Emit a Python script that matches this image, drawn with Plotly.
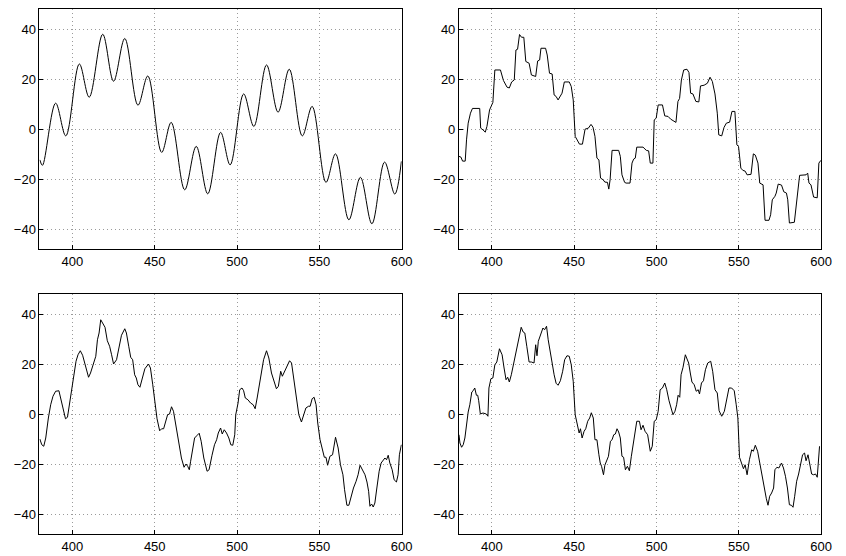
import plotly.graph_objects as go

# Panel 1: smooth signal (extrema)
x1 = [380.2, 381.8, 389.8, 396.0, 404.2, 410.2, 418.4, 425.0, 431.8, 439.8, 445.8, 454.2,
      460.0, 468.2, 475.2, 482.2, 490.0, 495.8, 504.0, 510.2, 517.9, 524.9, 531.7, 539.6,
      545.6, 554.0, 559.8, 567.9, 574.9, 581.9, 589.6, 595.8, 599.8]
y1 = [-12.3, -14.5, 10.4, -2.7, 26.1, 12.8, 38.0, 19.2, 36.3, 9.6, 21.3, -9.3,
      2.7, -24.3, -6.9, -25.9, -1.3, -14.3, 14.1, 1.1, 25.7, 6.8, 24.0, -2.7,
      9.1, -21.3, -9.9, -36.3, -19.3, -37.9, -13.2, -26.0, -12.9]

# Panel 2: sample-and-hold version
x2 = [380.0, 381.2, 382.2, 383.8, 384.6, 385.6, 387.0, 388.2, 392.6, 393.2, 394.6, 396.0, 397.0,
      398.6, 400.6, 401.8, 405.2, 407.0, 409.2, 410.6, 412.0, 413.6, 414.6, 415.6, 416.8, 418.0,
      419.4, 420.6, 422.6, 424.0, 426.6, 427.8, 429.0, 429.8, 432.6, 433.6, 435.0, 436.6, 437.8,
      439.0, 440.2, 441.8, 442.6, 444.0, 447.0, 448.2, 449.4, 450.6, 451.8, 453.2, 455.0, 456.6,
      458.6, 460.2, 461.4, 462.6, 463.8, 465.0, 466.0, 467.6, 468.6, 470.2, 471.0, 471.8, 473.0,
      477.0, 478.0, 479.0, 480.6, 481.5, 483.9, 485.1, 486.1, 487.1, 488.0, 491.8, 493.8, 495.2,
      496.2, 497.8, 498.6, 499.8, 501.0, 503.6, 505.0, 507.0, 508.6, 510.6, 511.8, 513.0, 514.0,
      515.1, 516.5, 518.5, 519.7, 520.7, 522.1, 523.9, 525.7, 526.7, 528.9, 530.9, 532.5, 533.9,
      535.5, 536.9, 537.8, 539.6, 541.0, 542.4, 544.4, 545.8, 547.6, 548.8, 549.8, 551.2, 552.4,
      553.8, 555.0, 557.4, 558.8, 560.0, 561.6, 562.7, 564.7, 565.9, 568.3, 569.3, 570.3, 571.9,
      572.7, 573.9, 575.9, 577.3, 578.9, 579.7, 580.7, 583.7, 585.3, 586.9, 590.8, 591.8, 592.6,
      593.8, 595.4, 597.6, 598.6, 599.8]
y2 = [-10.9, -11.2, -12.8, -12.8, -4.3, 2.4, 6.4, 8.3, 8.3, 0.4, -0.3, -1.2, 1.1,
      7.7, 10.7, 23.7, 23.7, 19.5, 16.8, 16.5, 18.9, 19.7, 31.7, 32.0, 37.9, 36.8,
      36.8, 27.1, 26.4, 21.7, 21.1, 27.3, 27.7, 32.4, 32.4, 29.7, 22.4, 22.1, 13.7,
      13.1, 11.7, 13.3, 14.4, 18.9, 18.9, 17.1, 11.7, -2.9, -4.5, -6.0, -6.0, 0.0,
      0.4, 1.9, 0.8, -2.9, -11.6, -12.3, -19.6, -20.3, -21.2, -21.3, -24.0, -20.3, -8.5,
      -8.5, -10.9, -18.3, -21.3, -21.6, -21.6, -13.6, -12.0, -11.6, -7.2, -7.2, -8.5, -8.7,
      -13.6, -13.6, 3.7, 4.4, 9.7, 9.7, 5.3, 5.1, 4.0, 3.3, 2.7, 11.1, 12.3,
      19.7, 23.7, 24.0, 22.7, 14.4, 14.1, 11.1, 10.9, 17.3, 17.6, 18.4, 20.8, 19.1,
      14.1, 6.4, -2.3, -2.7, 0.7, 2.4, 2.8, 7.1, 7.1, -6.3, -6.9, -15.6, -16.5,
      -16.8, -18.3, -18.1, -9.9, -10.4, -13.6, -21.6, -22.3, -36.5, -36.5, -34.3, -28.3, -26.9,
      -25.6, -22.0, -22.4, -25.1, -25.6, -28.3, -37.6, -37.3, -28.3, -18.5, -18.3, -17.6, -21.6,
      -22.3, -27.2, -27.5, -13.6, -12.5]

# Panel 3: noisy version A
x3 = [380.2, 381.4, 382.6, 383.8, 385.4, 386.8, 388.2, 389.8, 391.8, 392.8, 394.2, 395.8, 397.0,
      398.2, 399.8, 401.0, 402.2, 403.4, 404.8, 406.2, 407.8, 409.8, 411.0, 412.6, 414.2, 415.2,
      416.2, 417.2, 418.6, 419.8, 421.2, 422.6, 423.8, 425.0, 426.8, 428.2, 429.8, 431.8, 432.8,
      434.2, 435.4, 436.6, 437.8, 438.8, 439.8, 441.0, 442.4, 444.0, 446.2, 447.4, 448.8, 450.2,
      451.4, 453.0, 454.2, 455.4, 456.6, 457.8, 459.0, 460.2, 461.4, 462.8, 463.8, 465.0, 466.2,
      467.8, 469.0, 470.0, 471.0, 471.8, 473.0, 474.2, 475.8, 477.0, 478.2, 479.8, 481.8, 483.0,
      484.8, 486.3, 487.6, 488.6, 490.0, 491.0, 492.2, 493.6, 495.0, 496.2, 497.4, 498.6, 499.2,
      500.6, 501.6, 503.0, 504.0, 505.0, 506.6, 508.2, 509.8, 511.0, 512.2, 513.5, 514.9, 516.1,
      517.9, 519.3, 520.9, 522.5, 523.9, 525.1, 526.5, 527.5, 528.9, 530.5, 531.9, 533.1, 534.5,
      536.1, 537.5, 539.1, 540.4, 541.8, 543.4, 544.4, 545.6, 546.8, 548.0, 549.0, 550.4, 551.8,
      553.0, 554.0, 555.0, 556.4, 558.0, 559.8, 561.4, 562.8, 564.3, 565.3, 566.7, 567.9, 569.3,
      570.7, 572.3, 573.5, 574.7, 576.3, 577.7, 578.9, 579.9, 580.7, 581.7, 582.7, 583.7, 584.9,
      586.3, 587.5, 588.6, 589.8, 590.8, 591.8, 592.8, 594.2, 595.4, 596.8, 597.8, 598.6, 599.8]
y3 = [-10.0, -12.3, -12.9, -9.6, -1.6, 3.7, 7.1, 9.1, 9.3, 6.4, 1.7, -1.9, -1.3,
      3.7, 10.4, 15.7, 21.1, 23.7, 25.3, 23.5, 19.7, 14.7, 16.4, 20.0, 23.1, 29.7,
      32.4, 37.7, 36.0, 34.7, 29.3, 27.1, 23.7, 20.0, 21.7, 25.7, 31.5, 34.1, 32.4,
      27.1, 22.7, 21.7, 15.7, 14.4, 11.7, 10.7, 13.7, 18.1, 20.0, 18.4, 11.7, 3.1,
      -1.9, -6.7, -5.9, -5.9, -2.9, -0.3, 0.0, 2.9, 1.1, -4.3, -9.6, -12.5, -17.6,
      -21.3, -20.0, -20.9, -22.3, -18.9, -13.6, -9.6, -8.5, -7.7, -10.9, -17.6, -22.9, -22.3,
      -16.5, -12.3, -10.3, -7.6, -5.6, -8.0, -6.3, -7.6, -9.6, -12.3, -12.5, -8.3, -0.3,
      4.4, 9.7, 10.4, 9.3, 6.4, 5.7, 4.4, 3.7, 2.1, 6.4, 11.7, 17.1, 21.7,
      25.3, 22.4, 16.4, 13.3, 10.1, 11.1, 17.1, 15.1, 17.1, 19.1, 21.3, 20.4, 14.4,
      6.4, -0.3, -3.2, -0.3, 2.4, 3.1, 3.1, 6.1, 6.7, 3.7, -3.6, -10.3, -14.9,
      -17.3, -17.3, -20.5, -16.9, -16.3, -9.3, -13.6, -20.3, -24.3, -30.3, -36.5, -36.5, -32.9,
      -29.6, -26.9, -24.3, -20.5, -22.3, -24.3, -27.2, -30.9, -36.9, -36.0, -37.2, -35.6, -29.6,
      -22.9, -19.6, -18.7, -17.6, -18.3, -16.5, -19.6, -22.3, -26.3, -27.2, -24.3, -16.3, -12.3]

# Panel 4: noisy version B
x4 = [380.0, 380.6, 381.6, 382.6, 383.6, 384.6, 385.6, 386.6, 387.8, 388.6, 389.6, 390.6, 391.4,
      392.0, 393.0, 394.6, 396.6, 397.6, 398.2, 399.4, 400.6, 401.8, 403.0, 404.6, 406.2, 407.4,
      408.6, 409.6, 410.6, 411.8, 413.0, 414.6, 416.2, 417.8, 419.0, 420.0, 421.2, 422.6, 424.0,
      425.6, 426.6, 427.4, 428.2, 429.6, 431.0, 432.0, 433.2, 434.2, 435.6, 436.6, 437.8, 439.0,
      440.2, 441.6, 443.0, 444.2, 445.6, 447.0, 448.2, 449.4, 450.6, 451.8, 453.0, 453.8, 454.8,
      456.0, 457.0, 458.2, 459.4, 460.4, 461.6, 462.6, 463.8, 465.0, 465.8, 466.6, 467.8, 468.6,
      469.8, 470.8, 472.0, 473.0, 474.0, 475.0, 476.0, 477.0, 478.0, 479.0, 480.0, 481.1, 482.3,
      483.5, 484.7, 485.9, 487.1, 488.0, 489.6, 490.6, 491.8, 493.0, 494.6, 496.2, 497.4, 498.6,
      499.8, 501.0, 502.2, 503.6, 505.0, 506.2, 507.6, 508.6, 510.0, 511.2, 512.2, 513.1, 514.1,
      514.9, 516.1, 517.5, 518.5, 519.5, 520.5, 521.5, 522.9, 524.1, 525.3, 526.1, 527.3, 528.5,
      529.7, 531.1, 532.9, 534.1, 535.5, 536.9, 538.0, 539.6, 541.2, 542.4, 544.0, 545.6, 547.2,
      548.4, 549.4, 550.4, 551.6, 552.8, 553.8, 555.0, 556.4, 557.8, 558.8, 560.0, 561.4, 562.7,
      563.9, 565.3, 566.7, 567.7, 568.7, 569.9, 571.1, 571.9, 573.1, 574.3, 575.9, 577.1, 578.3,
      579.5, 580.7, 581.9, 582.9, 583.9, 585.1, 586.3, 587.5, 588.7, 589.9, 590.8, 592.0, 593.0,
      594.2, 595.4, 596.6, 597.6, 598.2, 599.0]
y4 = [-8.3, -11.6, -13.3, -12.3, -9.6, -3.6, 0.8, 3.7, 8.8, 9.3, 10.4, 7.5, 7.5,
      5.3, 0.0, 0.4, 0.0, -0.9, 10.4, 14.1, 14.4, 19.7, 20.8, 26.1, 23.7, 18.4,
      13.7, 14.7, 12.8, 15.7, 19.7, 24.8, 30.4, 34.7, 32.8, 32.4, 27.1, 20.8, 20.8,
      20.4, 27.7, 23.3, 29.1, 31.5, 34.4, 33.7, 35.1, 29.7, 25.1, 20.4, 15.7, 12.3,
      11.5, 13.3, 17.1, 21.7, 23.3, 23.1, 19.7, 13.1, -0.3, -4.5, -7.6, -5.9, -9.6,
      -6.9, -5.9, -2.9, -1.6, 0.5, -1.6, -10.3, -10.3, -16.3, -19.6, -20.9, -24.3, -20.5,
      -18.3, -16.9, -10.9, -10.3, -8.3, -8.0, -5.9, -7.2, -9.6, -16.9, -17.3, -22.3, -20.9,
      -22.7, -16.9, -12.3, -8.0, -2.9, -2.9, -6.3, -4.5, -6.9, -8.3, -14.9, -12.9, -2.9,
      -2.3, 1.1, 9.7, 10.4, 12.4, 9.7, 5.3, 2.4, -0.3, 1.1, 3.7, 7.5, 6.7,
      15.7, 18.7, 23.7, 21.7, 20.4, 16.4, 12.8, 11.7, 9.1, 9.7, 8.0, 12.4, 13.3,
      17.7, 20.4, 21.1, 17.1, 9.7, 8.4, 1.3, -0.9, 1.1, 5.7, 10.4, 10.4, 9.3,
      3.7, -1.6, -17.3, -19.6, -21.9, -20.3, -24.3, -18.3, -14.3, -14.9, -12.5, -14.9, -19.6,
      -24.3, -30.3, -33.9, -36.5, -32.9, -31.6, -29.6, -22.3, -21.3, -21.6, -19.6, -21.6, -24.9,
      -29.6, -36.3, -36.5, -37.3, -32.9, -26.9, -24.0, -19.6, -16.3, -15.6, -18.7, -16.3, -20.3,
      -24.0, -24.3, -24.0, -25.3, -18.9, -12.9]

x_ticks = [400, 450, 500, 550, 600]
y_ticks = [-40, -20, 0, 20, 40]
x_range = [380, 600]
y_range = [-48, 48]

W, H = 846, 556
col_dom = [[40 / W, 407 / W], [465 / W, 832 / W]]
row_dom = [[(H - 249) / H, (H - 9.3) / H], [(H - 534) / H, (H - 294) / H]]

fig = go.Figure()
series = [(x1, y1, "spline"), (x2, y2, "linear"), (x3, y3, "linear"), (x4, y4, "linear")]
for i, (xs, ys, shp) in enumerate(series):
    k = "" if i == 0 else str(i + 1)
    fig.add_trace(go.Scatter(x=xs, y=ys, mode="lines",
                             line=dict(color="black", width=1, shape=shp, smoothing=1.0),
                             xaxis="x" + k, yaxis="y" + k, showlegend=False, hoverinfo="skip"))

axis_common = dict(showline=True, mirror=True, linecolor="black", linewidth=1,
                   ticks="inside", ticklen=4, tickcolor="black",
                   showgrid=True, gridcolor="#9a9a9a", griddash="1px,3px", gridwidth=1,
                   zeroline=False, tickfont=dict(family="Liberation Sans, Arial", size=13, color="black"))

layout = dict(width=W, height=H, margin=dict(l=0, r=0, t=0, b=0),
              plot_bgcolor="white", paper_bgcolor="white", showlegend=False)
for i in range(4):
    r, c = divmod(i, 2)
    k = "" if i == 0 else str(i + 1)
    layout["xaxis" + k] = dict(axis_common, domain=col_dom[c], range=x_range,
                               tickvals=x_ticks, anchor="y" + k)
    layout["yaxis" + k] = dict(axis_common, domain=row_dom[r], range=y_range,
                               tickvals=y_ticks, anchor="x" + k)
fig.update_layout(**layout)
fig.write_html("out.html")
